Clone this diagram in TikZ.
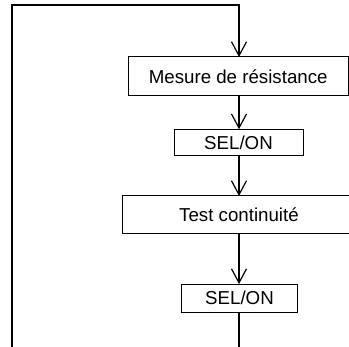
\documentclass[tikz,border=0pt]{standalone}
\usepackage{fontspec}
\setmainfont{Liberation Sans}
\usetikzlibrary{arrows.meta}
\tikzset{
  box/.style={draw, line width=1pt, inner sep=0pt, outer sep=0pt, font=\fontsize{18.7}{22}\selectfont},
  flow/.style={line width=1.3pt},
  arr/.style={flow, -{Straight Barb[length=14pt,width=15pt,line width=1.2pt]}}
}
\begin{document}
\begin{tikzpicture}[x=1pt,y=-1pt]
\useasboundingbox (0,0) rectangle (349,347);
\clip (0,0) rectangle (349,347);
\fill[white] (0,0) rectangle (349,347);
\node[box, minimum width=219.7pt, minimum height=39pt] (b1) at (238.2,76.5) {Mesure de résistance};
\node[box, minimum width=129pt, minimum height=26.5pt] (b2) at (238.5,142.5) {SEL/ON};
\node[box, minimum width=233.4pt, minimum height=38pt] (b3) at (239,215) {Test continuité};
\node[box, minimum width=116pt, minimum height=28.5pt] (b4) at (239.5,298.3) {SEL/ON};
\coordinate (ax) at (239,0);
\coordinate (bR) at (239,352);
\coordinate (bL) at (12,352);
\coordinate (tL) at (12,5);
\coordinate (tR) at (239,5);
\draw[arr] (bL) -- (tL) -- (tR) -- (b1.north -| ax);
\draw[arr] (b1.south -| ax) -- (b2.north -| ax);
\draw[arr] (b2.south -| ax) -- (b3.north -| ax);
\draw[arr] (b3.south -| ax) -- (b4.north -| ax);
\draw[flow] (b4.south -| ax) -- (bR);
\end{tikzpicture}
\end{document}
